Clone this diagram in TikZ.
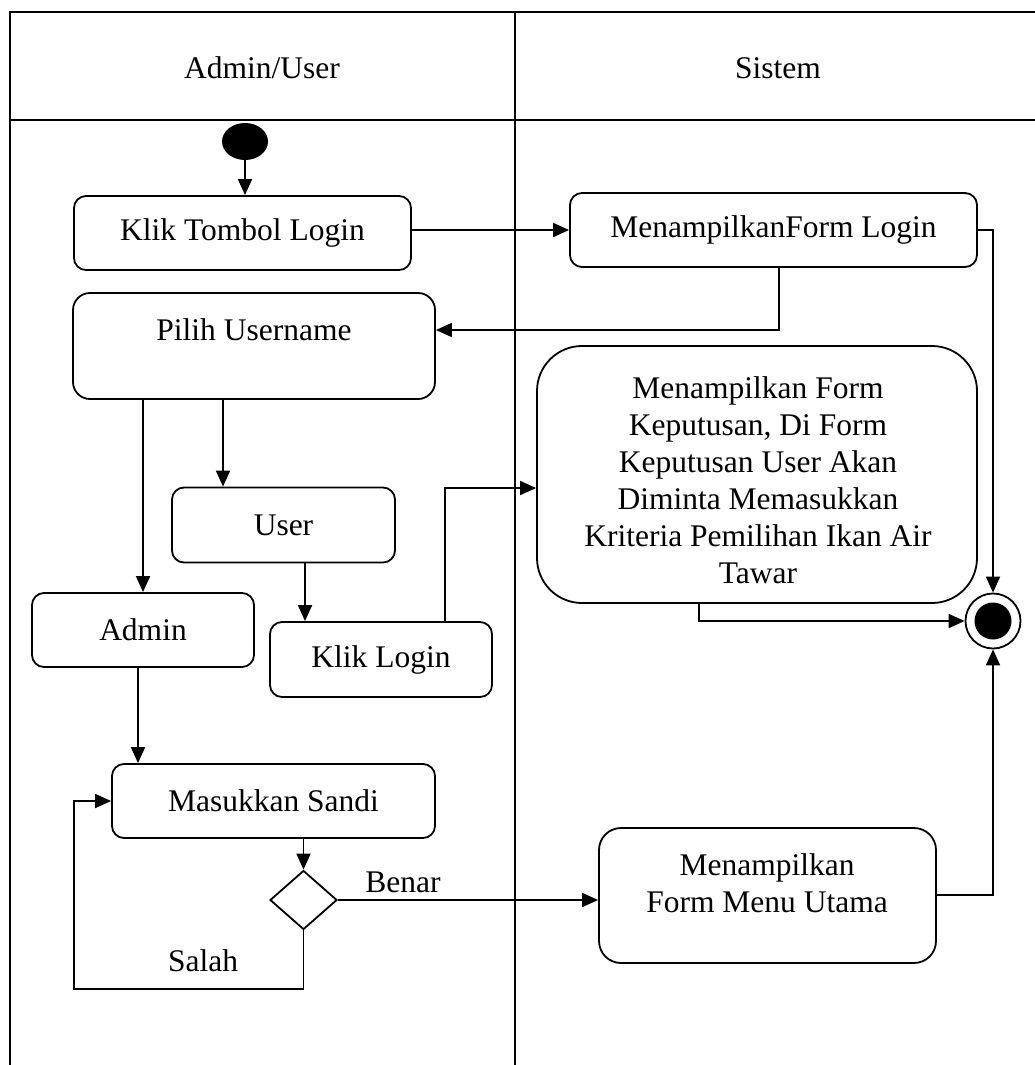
\documentclass[tikz,border=0pt]{standalone}
\usepackage{fontspec}
\setmainfont{Liberation Serif}
\usetikzlibrary{arrows.meta,shapes.geometric}
\newcommand{\lanefont}{\fontsize{31.5}{37}\selectfont}
\begin{document}
\begin{tikzpicture}[x=1pt,y=-1pt,
  lane/.style={line width=2.2pt},
  act/.style={draw, line width=1.8pt, rounded corners=12pt, inner sep=0pt},
  txt/.style={inner sep=0pt, align=center, font=\lanefont},
  arr/.style={line width=1.8pt, -{Triangle[length=16pt,width=14pt]}},
  flow/.style={line width=1.8pt}]
\useasboundingbox (0,0) rectangle (1035,1065);

% swimlane frame
\draw[lane] (10,1065) -- (10,12) -- (1035,12);
\draw[lane] (10,120) -- (1035,120);
\draw[lane] (515,12) -- (515,1065);
\node[txt] (hleft) at (262,68) {Admin/User};
\node[txt] (hright) at (778,68) {Sistem};

% start and end
\node[ellipse, fill, minimum width=46pt, minimum height=37pt, inner sep=0pt] (init) at (245,141.5) {};
\node[circle, draw, line width=1.8pt, minimum size=55pt, inner sep=0pt] (final) at (993,621) {};
\node[circle, fill, minimum size=37pt, inner sep=0pt] (finaldot) at (final.center) {};

% activities
\node[act, minimum width=337pt, minimum height=74pt, font=\lanefont] (ktl) at (242.5,233) {Klik Tombol Login};
\node[act, minimum width=407pt, minimum height=74pt, font=\lanefont] (mfl) at (773.5,230) {MenampilkanForm Login};
\node[act, rounded corners=17pt, minimum width=362pt, minimum height=106pt] (pilih) at (254,346) {};
\node[txt] (pilihtxt) at (254,330) {Pilih Username};
\node[act, minimum width=223pt, minimum height=75pt, font=\lanefont] (user) at (283.5,525) {User};
\node[act, minimum width=222pt, minimum height=74pt, font=\lanefont] (admin) at (143,630) {Admin};
\node[act, minimum width=222pt, minimum height=75pt, font=\lanefont] (klik) at (381,659.5) {Klik Login};
\node[act, rounded corners=45pt, minimum width=440pt, minimum height=257pt] (form) at (757,474.5) {};
\node[txt] (formtxt) at (758,480.5) {Menampilkan Form\\Keputusan, Di Form\\Keputusan User Akan\\Diminta Memasukkan\\Kriteria Pemilihan Ikan Air\\Tawar};
\node[act, minimum width=323pt, minimum height=74pt, font=\lanefont] (sandi) at (273.5,801) {Masukkan Sandi};
\node[draw, diamond, line width=1.8pt, minimum width=67pt, minimum height=59pt, inner sep=0pt] (dec) at (303.5,900) {};
\node[act, rounded corners=22pt, minimum width=337pt, minimum height=135pt] (menu) at (767.5,895.5) {};
\node[txt] (menutxt) at (767,883) {Menampilkan\\Form Menu Utama};

% guard labels
\node[txt] (benar) at (403,882) {Benar};
\node[txt] (salah) at (203,961) {Salah};

% bend points
\coordinate (cA) at (779,330);
\coordinate (cU) at (223,0);
\coordinate (cK) at (305,0);
\coordinate (cL) at (445,488);
\coordinate (cF) at (699,0);
\coordinate (cS) at (138,0);
\coordinate (cE) at (993,895);
\coordinate (cB) at (74,989);

% connectors
\draw[arr] (init.south) -- (init.south |- ktl.north);
\draw[arr] (ktl.east |- mfl.west) -- (mfl.west);
\draw[arr] (mfl.south -| cA) |- (pilih.east |- cA);
\draw[arr] (mfl.east) -| (final.north);
\draw[arr] (pilih.south -| admin.north) -- (admin.north);
\draw[arr] (pilih.south -| cU) -- (user.north -| cU);
\draw[arr] (user.south -| cK) -- (klik.north -| cK);
\draw[arr] (klik.north -| cL) |- (form.west |- cL);
\draw[arr] (form.south -| cF) |- (final.west);
\draw[arr] (admin.south -| cS) -- (sandi.north -| cS);
\draw[arr] (sandi.south -| dec.north) -- (dec.north);
\draw[arr] (dec.east) -- (dec.east -| menu.west);
\draw[arr] (dec.south) |- (cB) |- (sandi.west);
\draw[arr] (menu.east |- cE) -| (final.south);
\end{tikzpicture}
\end{document}
